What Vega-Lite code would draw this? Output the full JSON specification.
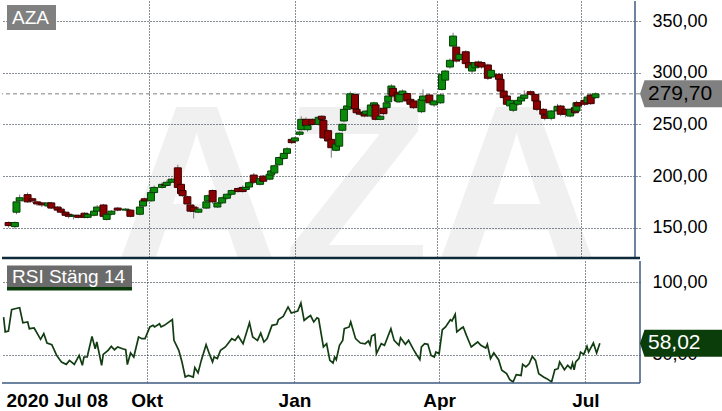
{
"$schema":"https://vega.github.io/schema/vega-lite/v6.json",
"padding":0,
"spacing":0,
"background":"white",
"config":{
 "view":{"stroke":null},
 "font":"Liberation Sans",
 "axis":{"gridColor":"#0e1c2a","gridDash":[1,2],"gridWidth":1,"gridOpacity":1,"domain":false,"ticks":false,"tickSize":0,"labelFont":"Liberation Sans","labelColor":"#000000"}
},
"datasets":{
"candles":[
{"d":"2020-07-04","o":155,"h":156,"l":150,"c":152},
{"d":"2020-07-08","o":151,"h":156,"l":149,"c":155},
{"d":"2020-07-09","o":165,"h":177,"l":163,"c":175},
{"d":"2020-07-11","o":176,"h":182,"l":175,"c":179},
{"d":"2020-07-16","o":182,"h":184,"l":174,"c":175},
{"d":"2020-07-19","o":178,"h":179,"l":174,"c":176},
{"d":"2020-07-22","o":175,"h":176,"l":171,"c":173},
{"d":"2020-07-25","o":174,"h":175,"l":170,"c":172},
{"d":"2020-07-29","o":171,"h":175,"l":170,"c":174},
{"d":"2020-07-31","o":174,"h":175,"l":168,"c":169},
{"d":"2020-08-04","o":170,"h":171,"l":166,"c":167},
{"d":"2020-08-06","o":168,"h":169,"l":164,"c":165},
{"d":"2020-08-09","o":165,"h":166,"l":161,"c":162},
{"d":"2020-08-11","o":163,"h":164,"l":159,"c":161},
{"d":"2020-08-14","o":161,"h":163,"l":158,"c":162},
{"d":"2020-08-17","o":162,"h":163,"l":159,"c":160},
{"d":"2020-08-21","o":164,"h":165,"l":159,"c":160},
{"d":"2020-08-23","o":160,"h":164,"l":159,"c":163},
{"d":"2020-08-27","o":162,"h":167,"l":161,"c":166},
{"d":"2020-08-29","o":166,"h":172,"l":165,"c":170},
{"d":"2020-09-02","o":172,"h":173,"l":159,"c":161},
{"d":"2020-09-04","o":158,"h":164,"l":157,"c":163},
{"d":"2020-09-07","o":163,"h":167,"l":162,"c":166},
{"d":"2020-09-11","o":169,"h":170,"l":166,"c":167},
{"d":"2020-09-16","o":167,"h":169,"l":166,"c":168},
{"d":"2020-09-19","o":167,"h":168,"l":160,"c":161},
{"d":"2020-09-25","o":163,"h":171,"l":162,"c":170},
{"d":"2020-09-27","o":171,"h":177,"l":170,"c":176},
{"d":"2020-09-28","o":178,"h":179,"l":175,"c":176},
{"d":"2020-10-02","o":176,"h":185,"l":175,"c":184},
{"d":"2020-10-04","o":184,"h":191,"l":183,"c":189},
{"d":"2020-10-09","o":189,"h":194,"l":188,"c":192},
{"d":"2020-10-11","o":192,"h":194,"l":190,"c":191},
{"d":"2020-10-12","o":191,"h":196,"l":190,"c":194},
{"d":"2020-10-15","o":194,"h":198,"l":193,"c":197},
{"d":"2020-10-19","o":208,"h":211,"l":188,"c":189},
{"d":"2020-10-21","o":192,"h":193,"l":182,"c":183},
{"d":"2020-10-22","o":186,"h":187,"l":180,"c":181},
{"d":"2020-10-25","o":180,"h":181,"l":172,"c":173},
{"d":"2020-10-27","o":172,"h":173,"l":165,"c":166},
{"d":"2020-10-29","o":170,"h":171,"l":159,"c":166},
{"d":"2020-11-01","o":165,"h":170,"l":164,"c":168},
{"d":"2020-11-06","o":169,"h":176,"l":168,"c":175},
{"d":"2020-11-07","o":176,"h":182,"l":175,"c":181},
{"d":"2020-11-10","o":186,"h":187,"l":173,"c":175},
{"d":"2020-11-13","o":170,"h":175,"l":169,"c":174},
{"d":"2020-11-16","o":174,"h":180,"l":173,"c":179},
{"d":"2020-11-19","o":178.5,"h":183,"l":177,"c":182.4},
{"d":"2020-11-22","o":182.4,"h":187,"l":181,"c":186},
{"d":"2020-11-26","o":188,"h":189,"l":184,"c":185},
{"d":"2020-11-29","o":189,"h":191,"l":184,"c":185},
{"d":"2020-12-01","o":187,"h":192,"l":186,"c":189},
{"d":"2020-12-03","o":189.4,"h":195,"l":188,"c":193.6},
{"d":"2020-12-06","o":201,"h":203,"l":192,"c":194},
{"d":"2020-12-10","o":192,"h":198,"l":191,"c":197.5},
{"d":"2020-12-12","o":200,"h":201,"l":194,"c":195},
{"d":"2020-12-16","o":197,"h":202,"l":196,"c":201.7},
{"d":"2020-12-17","o":201,"h":206,"l":200,"c":205},
{"d":"2020-12-19","o":203,"h":211,"l":202,"c":210},
{"d":"2020-12-22","o":211,"h":219,"l":210,"c":218},
{"d":"2020-12-25","o":217,"h":223,"l":216,"c":222},
{"d":"2020-12-27","o":222,"h":228,"l":221,"c":226.5},
{"d":"2020-12-30","o":235.6,"h":237,"l":231,"c":232.4},
{"d":"2021-01-01","o":234,"h":238,"l":233,"c":237},
{"d":"2021-01-04","o":240.5,"h":244,"l":239,"c":242.7},
{"d":"2021-01-05","o":245,"h":258,"l":244,"c":255},
{"d":"2021-01-08","o":255,"h":257,"l":246,"c":249},
{"d":"2021-01-09","o":245,"h":250,"l":243,"c":249},
{"d":"2021-01-12","o":255,"h":256,"l":249,"c":250},
{"d":"2021-01-16","o":250,"h":258,"l":249,"c":257},
{"d":"2021-01-18","o":258,"h":259,"l":254,"c":255},
{"d":"2021-01-19","o":254,"h":255,"l":236,"c":237},
{"d":"2021-01-22","o":244,"h":245,"l":233,"c":234},
{"d":"2021-01-24","o":235.6,"h":237,"l":217.8,"c":227.5},
{"d":"2021-01-27","o":225,"h":232,"l":224,"c":231},
{"d":"2021-01-29","o":229,"h":242,"l":228,"c":241.5},
{"d":"2021-01-31","o":244.4,"h":251,"l":243,"c":250.2},
{"d":"2021-02-01","o":253.4,"h":266,"l":252,"c":264.7},
{"d":"2021-02-03","o":264.7,"h":269,"l":263,"c":268},
{"d":"2021-02-05","o":267,"h":282,"l":266,"c":279.8},
{"d":"2021-02-08","o":279,"h":281,"l":263,"c":265},
{"d":"2021-02-09","o":264.7,"h":266,"l":260,"c":261.4},
{"d":"2021-02-11","o":262,"h":264,"l":259,"c":260},
{"d":"2021-02-14","o":261.4,"h":263,"l":257,"c":258.2},
{"d":"2021-02-15","o":260,"h":264,"l":259,"c":263},
{"d":"2021-02-18","o":258.2,"h":270,"l":257,"c":268.9},
{"d":"2021-02-20","o":268,"h":272,"l":267,"c":271},
{"d":"2021-02-21","o":269,"h":271,"l":254,"c":255},
{"d":"2021-02-24","o":255,"h":259,"l":254,"c":258},
{"d":"2021-02-26","o":265.7,"h":267,"l":259,"c":260.5},
{"d":"2021-02-28","o":266.3,"h":272,"l":265,"c":271},
{"d":"2021-03-01","o":272,"h":279,"l":271,"c":277.6},
{"d":"2021-03-03","o":279.2,"h":289,"l":278,"c":287.3},
{"d":"2021-03-04","o":285,"h":287,"l":276,"c":277.6},
{"d":"2021-03-07","o":280.8,"h":282,"l":271,"c":272.8},
{"d":"2021-03-08","o":272,"h":281,"l":271,"c":279},
{"d":"2021-03-10","o":279,"h":284,"l":278,"c":282.4},
{"d":"2021-03-13","o":280,"h":281,"l":271,"c":272.8},
{"d":"2021-03-15","o":274.4,"h":276,"l":268,"c":269.6},
{"d":"2021-03-17","o":272.8,"h":274,"l":265,"c":266.3},
{"d":"2021-03-22","o":262.4,"h":276,"l":261,"c":274.4},
{"d":"2021-03-23","o":273.4,"h":284,"l":272,"c":277.6},
{"d":"2021-03-27","o":278.6,"h":280,"l":269,"c":271},
{"d":"2021-03-30","o":269,"h":274,"l":267,"c":272.8},
{"d":"2021-04-03","o":271,"h":280,"l":270,"c":278.6},
{"d":"2021-04-04","o":284,"h":300,"l":283,"c":298.6},
{"d":"2021-04-06","o":293,"h":303,"l":292,"c":301.8},
{"d":"2021-04-09","o":305.7,"h":314,"l":304,"c":312.2},
{"d":"2021-04-11","o":326,"h":339,"l":325,"c":335.7},
{"d":"2021-04-13","o":325,"h":327,"l":310,"c":311.5},
{"d":"2021-04-15","o":313,"h":320,"l":311,"c":318},
{"d":"2021-04-19","o":320.5,"h":322,"l":307,"c":309},
{"d":"2021-04-21","o":310,"h":311,"l":304,"c":305},
{"d":"2021-04-23","o":301.8,"h":309,"l":300,"c":307.7},
{"d":"2021-04-25","o":305,"h":311,"l":304,"c":310},
{"d":"2021-04-27","o":310.6,"h":312,"l":305,"c":306.7},
{"d":"2021-04-29","o":310,"h":311,"l":304,"c":305.7},
{"d":"2021-05-03","o":307.7,"h":309,"l":293,"c":294.8},
{"d":"2021-05-05","o":296,"h":304,"l":295,"c":302.5},
{"d":"2021-05-10","o":298.6,"h":300,"l":293,"c":293.8},
{"d":"2021-05-11","o":293.8,"h":295,"l":281,"c":282.4},
{"d":"2021-05-13","o":282.4,"h":284,"l":275,"c":276},
{"d":"2021-05-15","o":277.6,"h":279,"l":268,"c":269.6},
{"d":"2021-05-17","o":268,"h":275,"l":267,"c":273.4},
{"d":"2021-05-19","o":263.8,"h":271,"l":262,"c":270.2},
{"d":"2021-05-22","o":269.6,"h":275,"l":268,"c":273.4},
{"d":"2021-05-24","o":272.8,"h":279,"l":271,"c":276.6},
{"d":"2021-05-26","o":275.4,"h":283,"l":274,"c":278.6},
{"d":"2021-05-30","o":281.8,"h":283,"l":278,"c":279.2},
{"d":"2021-06-02","o":279.2,"h":280,"l":271,"c":272.8},
{"d":"2021-06-03","o":272.8,"h":274,"l":263,"c":264.7},
{"d":"2021-06-07","o":264.7,"h":266,"l":258,"c":259.9},
{"d":"2021-06-08","o":259.2,"h":260,"l":254,"c":256},
{"d":"2021-06-12","o":256,"h":264,"l":254,"c":263.1},
{"d":"2021-06-16","o":263.1,"h":270,"l":262,"c":267.6},
{"d":"2021-06-18","o":267.9,"h":269,"l":258,"c":259.9},
{"d":"2021-06-21","o":264.7,"h":266,"l":257,"c":259.9},
{"d":"2021-06-24","o":258.2,"h":266,"l":257,"c":264.7},
{"d":"2021-06-27","o":266.3,"h":268,"l":260,"c":261.4},
{"d":"2021-06-28","o":263.1,"h":273,"l":262,"c":271.1},
{"d":"2021-06-29","o":271.1,"h":272,"l":266,"c":267.9},
{"d":"2021-07-03","o":273.4,"h":275,"l":268,"c":269.6},
{"d":"2021-07-05","o":271.1,"h":278,"l":270,"c":276.6},
{"d":"2021-07-07","o":278.6,"h":280,"l":269,"c":270.2},
{"d":"2021-07-10","o":276,"h":281,"l":275,"c":279.7}
],
"rsi":[
{"d":"2020-07-04","r":76},{"d":"2020-07-05","r":65.8},{"d":"2020-07-07","r":66.4},{"d":"2020-07-09","r":81},
{"d":"2020-07-11","r":81.7},{"d":"2020-07-14","r":82.4},{"d":"2020-07-16","r":72},{"d":"2020-07-19","r":72.6},
{"d":"2020-07-20","r":68},{"d":"2020-07-23","r":68.5},{"d":"2020-07-25","r":64.6},{"d":"2020-07-27","r":60.7},
{"d":"2020-07-29","r":64.6},{"d":"2020-07-31","r":58.2},{"d":"2020-08-03","r":57},{"d":"2020-08-06","r":49.7},
{"d":"2020-08-09","r":45.2},{"d":"2020-08-12","r":43.6},{"d":"2020-08-14","r":46.3},{"d":"2020-08-17","r":43.6},
{"d":"2020-08-20","r":49.7},{"d":"2020-08-22","r":42.9},{"d":"2020-08-23","r":48.6},{"d":"2020-08-25","r":48.6},
{"d":"2020-08-28","r":62.7},{"d":"2020-08-30","r":54.3},{"d":"2020-08-31","r":58.9},{"d":"2020-09-03","r":42.9},
{"d":"2020-09-04","r":50.4},{"d":"2020-09-07","r":53.2},{"d":"2020-09-09","r":55.9},{"d":"2020-09-11","r":53.6},
{"d":"2020-09-13","r":55.5},{"d":"2020-09-16","r":54.3},{"d":"2020-09-18","r":53.6},{"d":"2020-09-19","r":43.4},
{"d":"2020-09-21","r":51.4},{"d":"2020-09-23","r":48.6},{"d":"2020-09-26","r":62.3},{"d":"2020-09-28","r":61.2},
{"d":"2020-09-30","r":61.2},{"d":"2020-10-03","r":69.2},{"d":"2020-10-05","r":70.3},{"d":"2020-10-06","r":69.2},
{"d":"2020-10-09","r":71.4},{"d":"2020-10-10","r":69.2},{"d":"2020-10-12","r":70.3},{"d":"2020-10-17","r":74.2},
{"d":"2020-10-18","r":60},{"d":"2020-10-21","r":53.2},{"d":"2020-10-23","r":45.2},{"d":"2020-10-25","r":34.9},
{"d":"2020-10-27","r":36},{"d":"2020-10-30","r":34.9},{"d":"2020-10-31","r":41.3},{"d":"2020-11-02","r":37.7},
{"d":"2020-11-04","r":46.3},{"d":"2020-11-07","r":57},{"d":"2020-11-09","r":50.9},{"d":"2020-11-11","r":45.2},
{"d":"2020-11-12","r":48.6},{"d":"2020-11-14","r":47.5},{"d":"2020-11-16","r":53.2},{"d":"2020-11-19","r":55.5},
{"d":"2020-11-23","r":61.2},{"d":"2020-11-25","r":60},{"d":"2020-11-27","r":63},{"d":"2020-11-30","r":57.7},
{"d":"2020-12-04","r":72.1},{"d":"2020-12-06","r":62.3},{"d":"2020-12-09","r":60},{"d":"2020-12-11","r":65},
{"d":"2020-12-13","r":58.9},{"d":"2020-12-15","r":61.2},{"d":"2020-12-18","r":70.3},{"d":"2020-12-21","r":71},
{"d":"2020-12-22","r":74.2},{"d":"2020-12-25","r":76.4},{"d":"2020-12-28","r":82.9},{"d":"2020-12-30","r":78.8},
{"d":"2021-01-03","r":80.1},{"d":"2021-01-05","r":85.6},{"d":"2021-01-07","r":73.7},{"d":"2021-01-09","r":75.5},
{"d":"2021-01-11","r":77},{"d":"2021-01-13","r":72.6},{"d":"2021-01-15","r":75.5},{"d":"2021-01-16","r":74.9},
{"d":"2021-01-19","r":55.5},{"d":"2021-01-21","r":57.7},{"d":"2021-01-23","r":46.3},{"d":"2021-01-25","r":44.5},
{"d":"2021-01-26","r":48.6},{"d":"2021-01-27","r":46.8},{"d":"2021-01-29","r":56.6},{"d":"2021-01-31","r":60},
{"d":"2021-02-01","r":68},{"d":"2021-02-04","r":69.2},{"d":"2021-02-05","r":72.6},{"d":"2021-02-08","r":61.2},
{"d":"2021-02-11","r":58.2},{"d":"2021-02-14","r":57.7},{"d":"2021-02-16","r":59.6},{"d":"2021-02-17","r":57},
{"d":"2021-02-18","r":63},{"d":"2021-02-20","r":64.1},{"d":"2021-02-21","r":50.9},{"d":"2021-02-24","r":57.7},
{"d":"2021-02-26","r":56.6},{"d":"2021-03-02","r":68},{"d":"2021-03-04","r":60},{"d":"2021-03-07","r":56.6},
{"d":"2021-03-08","r":61.8},{"d":"2021-03-11","r":57.3},{"d":"2021-03-13","r":60},{"d":"2021-03-16","r":53.8},
{"d":"2021-03-18","r":50.2},{"d":"2021-03-20","r":46.8},{"d":"2021-03-21","r":55.5},{"d":"2021-03-23","r":57.7},
{"d":"2021-03-25","r":57.3},{"d":"2021-03-27","r":49.7},{"d":"2021-03-29","r":48.6},{"d":"2021-03-30","r":52},
{"d":"2021-04-01","r":50.9},{"d":"2021-04-03","r":67.3},{"d":"2021-04-05","r":69.2},{"d":"2021-04-08","r":74.2},
{"d":"2021-04-09","r":73.3},{"d":"2021-04-11","r":77.8},{"d":"2021-04-12","r":65.8},{"d":"2021-04-15","r":68.5},
{"d":"2021-04-16","r":69.2},{"d":"2021-04-18","r":63.4},{"d":"2021-04-21","r":55.5},{"d":"2021-04-25","r":58.9},
{"d":"2021-04-27","r":56.6},{"d":"2021-04-30","r":54.8},{"d":"2021-05-01","r":57.3},{"d":"2021-05-03","r":47.5},
{"d":"2021-05-05","r":51.4},{"d":"2021-05-08","r":46.8},{"d":"2021-05-10","r":39.5},{"d":"2021-05-13","r":37.2},
{"d":"2021-05-15","r":33.1},{"d":"2021-05-17","r":31.5},{"d":"2021-05-19","r":36.5},{"d":"2021-05-22","r":36},
{"d":"2021-05-23","r":43.6},{"d":"2021-05-25","r":41.8},{"d":"2021-05-27","r":44},{"d":"2021-05-29","r":49},
{"d":"2021-05-31","r":46.3},{"d":"2021-06-02","r":37.2},{"d":"2021-06-05","r":34.9},{"d":"2021-06-07","r":33.8},
{"d":"2021-06-10","r":31.5},{"d":"2021-06-12","r":39.9},{"d":"2021-06-14","r":40.6},{"d":"2021-06-15","r":45.2},
{"d":"2021-06-18","r":39.9},{"d":"2021-06-20","r":42.9},{"d":"2021-06-22","r":40.6},{"d":"2021-06-23","r":44.5},
{"d":"2021-06-24","r":39.9},{"d":"2021-06-25","r":45.2},{"d":"2021-06-27","r":47.5},{"d":"2021-06-28","r":52},
{"d":"2021-06-30","r":50.4},{"d":"2021-07-02","r":55.9},{"d":"2021-07-03","r":52},{"d":"2021-07-06","r":58.2},
{"d":"2021-07-08","r":51.4},{"d":"2021-07-10","r":58.02}
]
},
"vconcat":[
{
 "width":638,"height":257,
 "data":{"name":"candles"},
 "layer":[
  {"data":{"values":[{}]},
   "mark":{"type":"text","text":"AZA","font":"Liberation Sans","fontWeight":"bold","fontSize":240,"fill":"#000000","opacity":0.055,"align":"center","baseline":"alphabetic","clip":true},
   "encoding":{"x":{"datum":{"year":2021,"month":2,"date":9,"utc":true},"type":"temporal","title":null},"y":{"datum":107,"type":"quantitative","title":null}}},
  {"data":{"values":[{}]},
   "mark":{"type":"rule","color":"#808080","strokeDash":[4,3],"strokeWidth":1},
   "encoding":{"y":{"datum":279.7,"type":"quantitative","title":null}}},
  {"mark":{"type":"rule","color":"#7a7a7a","strokeWidth":1},
   "encoding":{
    "x":{"field":"d","type":"temporal","title":null,
      "scale":{"type":"utc","domain":[{"year":2020,"month":7,"date":3,"utc":true},{"year":2021,"month":8,"date":4,"utc":true}]},
      "axis":{"values":[{"year":2020,"month":10,"date":1,"utc":true},{"year":2021,"month":1,"date":1,"utc":true},{"year":2021,"month":4,"date":1,"utc":true},{"year":2021,"month":7,"date":1,"utc":true}],"labels":false,"grid":true,"title":null}},
    "y":{"field":"l","type":"quantitative","title":null,
      "scale":{"domain":[120.6,369.7],"nice":false,"zero":false},
      "axis":{"orient":"right","values":[150,200,250,300,350],"labelExpr":"replace(format(datum.value,'.2f'),'.',',')","labelFontSize":18,"labelPadding":12,"labelAlign":"left","labelBaseline":"middle","grid":true,"title":null}},
    "y2":{"field":"h"}}},
  {"mark":{"type":"bar","size":7,"strokeWidth":1},
   "encoding":{
    "x":{"field":"d","type":"temporal","title":null},
    "y":{"field":"o","type":"quantitative","title":null},
    "y2":{"field":"c"},
    "fill":{"condition":{"test":"datum.c >= datum.o","value":"#0a8a0a"},"value":"#8b0000"},
    "stroke":{"condition":{"test":"datum.c >= datum.o","value":"#053f05"},"value":"#3a0000"}}},
  {"data":{"values":[{}]},
   "mark":{"type":"rule","color":"#3c5a80","strokeWidth":1.5},
   "encoding":{"x":{"datum":{"year":2021,"month":8,"date":4,"utc":true},"type":"temporal","title":null}}},
  {"data":{"values":[{}]},
   "mark":{"type":"rule","color":"#0f2a3a","strokeWidth":2.5},
   "encoding":{"y":{"datum":120.6,"type":"quantitative","title":null}}},
  {"data":{"values":[{}]},
   "mark":{"type":"point","shape":"M0,0L0.05,-0.15L1,-0.15L1,0.15L0.05,0.15Z","size":32400,"filled":true,"fill":"#808080","opacity":1,"strokeWidth":0},
   "encoding":{"x":{"value":"width"},"y":{"datum":279.7,"type":"quantitative","title":null}}},
  {"data":{"values":[{}]},
   "mark":{"type":"text","text":"279,70","font":"Liberation Sans","fontSize":21,"align":"left","baseline":"middle","dx":8,"fill":"#000000"},
   "encoding":{"x":{"value":"width"},"y":{"datum":279.7,"type":"quantitative","title":null}}},
  {"data":{"values":[{}]},
   "mark":{"type":"rect","fill":"#808080"},
   "encoding":{"x":{"value":5},"x2":{"value":54},"y":{"value":4},"y2":{"value":29}}},
  {"data":{"values":[{}]},
   "mark":{"type":"text","text":"AZA","font":"Liberation Sans","fontSize":19,"align":"left","baseline":"middle","fill":"#ffffff"},
   "encoding":{"x":{"value":10},"y":{"value":17}}}
 ]
},
{
 "width":638,"height":122,
 "data":{"name":"rsi"},
 "layer":[
  {"mark":{"type":"line","color":"#123d12","strokeWidth":1.7},
   "encoding":{
    "x":{"field":"d","type":"temporal","title":null,
      "scale":{"type":"utc","domain":[{"year":2020,"month":7,"date":3,"utc":true},{"year":2021,"month":8,"date":4,"utc":true}]},
      "axis":{"values":[{"year":2020,"month":7,"date":8,"utc":true},{"year":2020,"month":10,"date":1,"utc":true},{"year":2021,"month":1,"date":1,"utc":true},{"year":2021,"month":4,"date":1,"utc":true},{"year":2021,"month":7,"date":1,"utc":true}],
        "labelExpr":"datum.value < utc(2020,8,1) ? '2020 Jul 08' : utcmonth(datum.value) == 9 ? 'Okt' : utcmonth(datum.value) == 0 ? 'Jan' : utcmonth(datum.value) == 3 ? 'Apr' : 'Jul'",
        "labelFontSize":19,"labelFontWeight":"bold","labelPadding":8,
        "labelAlign":{"condition":{"test":"datum.value < utc(2020,8,1)","value":"left"},"value":"center"},
        "labelOffset":{"condition":{"test":"datum.value < utc(2020,8,1)","value":-4},"value":0},
        "gridOpacity":{"condition":{"test":"datum.value < utc(2020,8,1)","value":0},"value":1},
        "grid":true,"title":null}},
    "y":{"field":"r","type":"quantitative","title":null,
      "scale":{"domain":[30.8,114.4],"nice":false,"zero":false},
      "axis":{"orient":"right","values":[50,100],"labelExpr":"replace(format(datum.value,'.2f'),'.',',')","labelFontSize":18,"labelPadding":12,"labelAlign":"left","labelBaseline":"middle","grid":true,"title":null}}}},
  {"data":{"values":[{}]},
   "mark":{"type":"rule","color":"#3c5a80","strokeWidth":1.5},
   "encoding":{"x":{"datum":{"year":2021,"month":8,"date":4,"utc":true},"type":"temporal","title":null}}},
  {"data":{"values":[{}]},
   "mark":{"type":"rule","color":"#3c5a80","strokeWidth":1.5},
   "encoding":{"y":{"datum":30.8,"type":"quantitative","title":null}}},
  {"data":{"values":[{}]},
   "mark":{"type":"rect","fill":"#6b6b6b"},
   "encoding":{"x":{"value":5},"x2":{"value":130},"y":{"value":4.5},"y2":{"value":26}}},
  {"data":{"values":[{}]},
   "mark":{"type":"rect","fill":"#0a3a0a"},
   "encoding":{"x":{"value":5},"x2":{"value":130},"y":{"value":26},"y2":{"value":29.5}}},
  {"data":{"values":[{}]},
   "mark":{"type":"text","text":"RSI Stäng 14","font":"Liberation Sans","fontSize":19,"align":"left","baseline":"middle","fill":"#ffffff"},
   "encoding":{"x":{"value":10},"y":{"value":15.5}}},
  {"data":{"values":[{}]},
   "mark":{"type":"point","shape":"M0,0L0.05,-0.15L1,-0.15L1,0.15L0.05,0.15Z","size":32400,"filled":true,"fill":"#0b3d0b","opacity":1,"strokeWidth":0},
   "encoding":{"x":{"value":"width"},"y":{"datum":58.02,"type":"quantitative","title":null}}},
  {"data":{"values":[{}]},
   "mark":{"type":"text","text":"58,02","font":"Liberation Sans","fontSize":21,"align":"left","baseline":"middle","dx":8,"fill":"#ffffff"},
   "encoding":{"x":{"value":"width"},"y":{"datum":58.02,"type":"quantitative","title":null}}}
 ]
}
],
"resolve":{"scale":{"x":"independent","y":"independent"}}
}
